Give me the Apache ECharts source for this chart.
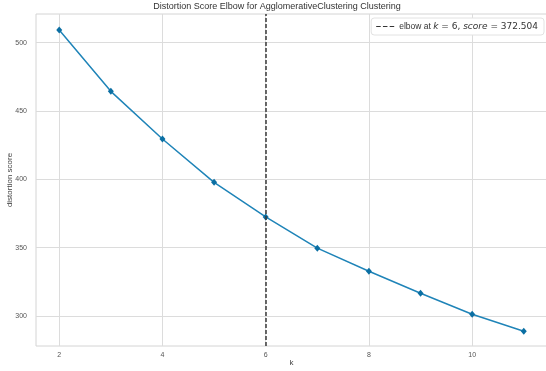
<!DOCTYPE html>
<html><head><meta charset="utf-8">
<script src="https://cdn.jsdelivr.net/npm/echarts@6/dist/echarts.min.js"></script>
<style>html,body{margin:0;padding:0;background:#fff}#c{width:546px;height:371px}</style>
</head><body><div id="c"></div>
<script>
const ks = [2, 3, 4, 5, 6, 7, 8, 9, 10, 11];
const scores = [509.3, 464.4, 429.5, 397.8, 372.504, 349.6, 332.7, 316.6, 301.2, 288.8];
const elbowK = 6;
const elbowScore = 372.504;
const xTicks = [2, 4, 6, 8, 10];
const yTicks = [300, 350, 400, 450, 500];
const titleText = 'Distortion Score Elbow for AgglomerativeClustering Clustering';

const chart = echarts.init(document.getElementById('c'), null, {renderer: 'canvas'});
const tickFont = {color: '#555', fontSize: 7, fontFamily: 'Liberation Sans'};
chart.setOption({
  animation: false,
  backgroundColor: '#fff',
  title: {
    text: titleText, left: 277, textAlign: 'center', top: 2, padding: 0,
    textStyle: {fontSize: 9, fontWeight: 'normal', color: '#333', fontFamily: 'Liberation Sans'}
  },
  grid: {left: 36, right: -1, top: 14, bottom: 25, show: true, borderColor: '#d4d4d4', borderWidth: 1,
         outerBoundsMode: 'none', containLabel: false},
  legend: {
    data: [{name: 'elbow', icon: 'path://M0,0h4v1h-4z M6,0h4v1h-4z M12,0h4v1h-4z'}],
    right: 2, top: 18, itemWidth: 18, itemHeight: 1.5, itemGap: 7,
    padding: [4, 6, 4, 5], borderColor: '#e2e2e2', borderWidth: 1, borderRadius: 3, backgroundColor: '#fff',
    itemStyle: {color: '#333'},
    formatter: () => '{t|elbow at }{m|k}{n| = ' + elbowK + ', }{m|score}{n| = ' + elbowScore.toFixed(3) + '}',
    textStyle: {
      rich: {
        t: {fontSize: 8.5, color: '#333', fontFamily: 'Liberation Sans'},
        m: {fontSize: 9, color: '#333', fontFamily: 'DejaVu Sans', fontStyle: 'italic'},
        n: {fontSize: 9, color: '#333', fontFamily: 'DejaVu Sans'}
      }
    }
  },
  xAxis: {
    type: 'value', min: 1.55, max: 11.45,
    name: 'k', nameLocation: 'middle', nameGap: 13, nameMoveOverlap: false,
    nameTextStyle: {color: '#444', fontSize: 8, fontFamily: 'Liberation Sans'},
    axisLine: {show: false},
    axisTick: {show: false, customValues: xTicks},
    axisLabel: Object.assign({customValues: xTicks, margin: 6}, tickFont),
    splitLine: {show: true, lineStyle: {color: '#dcdcdc', width: 1}}
  },
  yAxis: {
    type: 'value', min: 278, max: 521,
    name: 'distortion score', nameLocation: 'middle', nameGap: 22, nameMoveOverlap: false,
    nameTextStyle: {color: '#444', fontSize: 8, fontFamily: 'Liberation Sans'},
    axisLine: {show: false},
    axisTick: {show: false, customValues: yTicks},
    axisLabel: Object.assign({customValues: yTicks, margin: 9}, tickFont),
    splitLine: {show: true, lineStyle: {color: '#dcdcdc', width: 1}}
  },
  series: [
    {
      name: 'score', type: 'line',
      data: ks.map((k, i) => [k, scores[i]]),
      symbol: 'diamond', symbolSize: [6, 7],
      lineStyle: {color: '#1f84b8', width: 1.5},
      itemStyle: {color: '#0b6fa3'},
      z: 3
    },
    {
      name: 'elbow', type: 'line', data: [],
      itemStyle: {color: '#333'},
      markLine: {
        silent: true, symbol: 'none', label: {show: false},
        lineStyle: {color: '#3a3a3a', width: 1.5, type: [4, 2]},
        data: [{xAxis: elbowK}]
      },
      z: 2
    }
  ]
});
</script></body></html>
